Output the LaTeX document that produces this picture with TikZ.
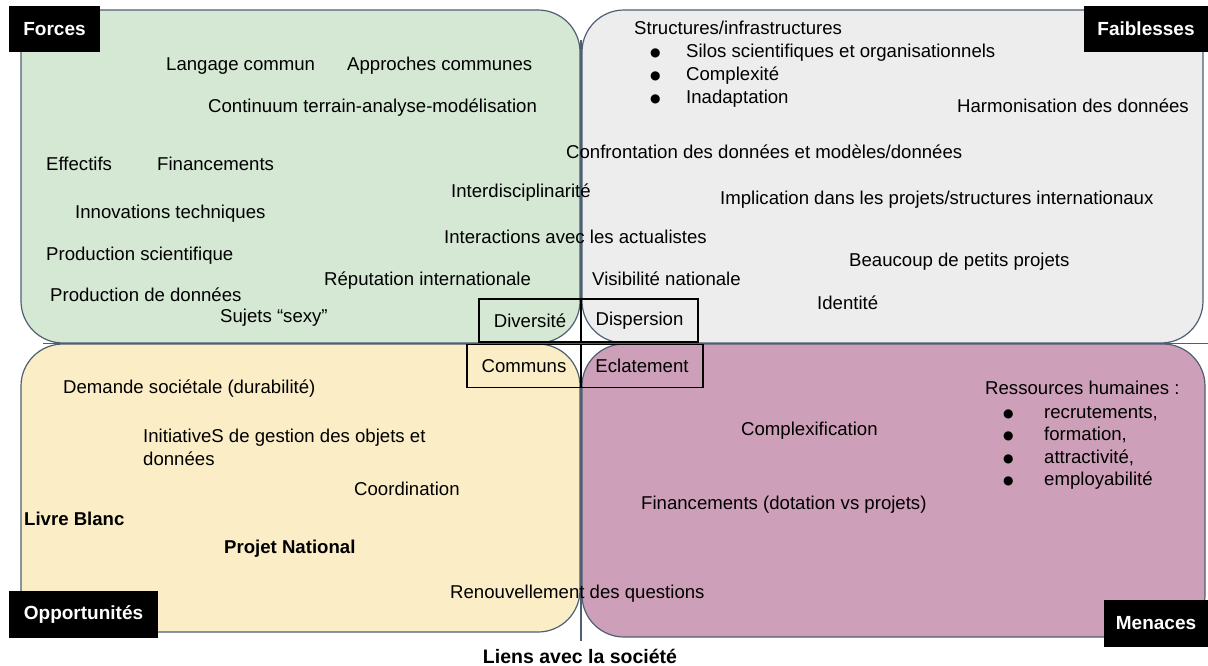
\documentclass[tikz,border=0pt]{standalone}
\usepackage{fontspec}
\setmainfont{Liberation Sans}
\newfontfamily\symfont{DejaVu Sans}
\definecolor{cgreen}{HTML}{D5E8D4}
\definecolor{cgray}{HTML}{EDEDED}
\definecolor{cyellow}{HTML}{FBEDC6}
\definecolor{cpink}{HTML}{CD9FB9}
\definecolor{cedge}{HTML}{4F5F73}
\tikzset{
  quad/.style={draw=cedge, line width=1.2pt, rounded corners=42pt},
  axis/.style={draw=cedge, line width=1.1pt},
  txt/.style={anchor=base west, inner sep=0pt, font=\fontsize{18.6pt}{22pt}\selectfont},
  btxt/.style={txt, font=\fontsize{18.6pt}{22pt}\selectfont\bfseries},
  bul/.style={anchor=base west, inner sep=0pt, font=\fontsize{12pt}{14pt}\symfont},
  tag/.style={fill=black, text=white, inner sep=0pt, minimum height=46pt, font=\fontsize{19pt}{22pt}\selectfont\bfseries},
  midbox/.style={draw=black, line width=1.1pt, inner sep=0pt, minimum height=43pt, font=\fontsize{18.6pt}{22pt}\selectfont},
}
\begin{document}
\begin{tikzpicture}[x=1pt,y=-1pt]
\useasboundingbox (0,0) rectangle (1208,665);
% quadrants
\path[quad, fill=cgreen] (21,10) rectangle (580,343);
\path[quad, fill=cgray] (582,10) rectangle (1203,343);
\path[quad, fill=cyellow] (21,344) rectangle (580,632);
\path[quad, fill=cpink] (582,344) rectangle (1205,637);
% axes
\coordinate (vt) at (581,40);
\coordinate (vb) at (581,641);
\coordinate (hl) at (43,343.5);
\coordinate (hr) at (1208,343.5);
\path[axis] (vt) -- (vb);
\path[axis] (hl) -- (hr);
% center boxes
\node[midbox, minimum width=102pt] (div) at (530,320.5) {Diversité};
\node[midbox, minimum width=117pt] (disp) at (639.5,320.5) {Dispersion};
\node[midbox, minimum width=114pt] (comm) at (524,366) {Communs};
\node[midbox, minimum width=122pt] (ecl) at (642,366) {Eclatement};
% tags
\node[tag, minimum width=91pt] (forces) at (54.5,29) {Forces};
\node[tag, minimum width=124pt] (faib) at (1146,29) {Faiblesses};
\node[tag, minimum width=149pt, minimum height=47pt] (opp) at (83.5,614.5) {Opportunités};
\node[tag, minimum width=104pt, minimum height=47pt] (men) at (1156,623.5) {Menaces};
% Forces
\node[txt] (f1) at (166,70) {Langage commun};
\node[txt] (f2) at (347,70) {Approches communes};
\node[txt] (f3) at (208,112) {Continuum terrain-analyse-modélisation};
\node[txt] (f4) at (46,170) {Effectifs};
\node[txt] (f5) at (157,170) {Financements};
\node[txt] (f6) at (451,197) {Interdisciplinarité};
\node[txt] (f7) at (75,218) {Innovations techniques};
\node[txt] (f8) at (444,243) {Interactions avec les actualistes};
\node[txt] (f9) at (46,260) {Production scientifique};
\node[txt] (f10) at (324,285) {Réputation internationale};
\node[txt] (f11) at (50,301) {Production de données};
\node[txt] (f12) at (220,322) {Sujets “sexy”};
% Faiblesses
\node[txt] (w1) at (634,34) {Structures/infrastructures};
\node[bul] (wb1) at (650,56) {●};
\node[txt] (w2) at (686,57) {Silos scientifiques et organisationnels};
\node[bul] (wb2) at (650,79) {●};
\node[txt] (w3) at (686,80) {Complexité};
\node[bul] (wb3) at (650,102) {●};
\node[txt] (w4) at (686,103) {Inadaptation};
\node[txt] (w5) at (957,112) {Harmonisation des données};
\node[txt] (w6) at (566,158) {Confrontation des données et modèles/données};
\node[txt] (w7) at (720,204) {Implication dans les projets/structures internationaux};
\node[txt] (w8) at (849,266) {Beaucoup de petits projets};
\node[txt] (w9) at (592,285) {Visibilité nationale};
\node[txt] (w10) at (817,309) {Identité};
% Opportunites
\node[txt] (o1) at (63,393) {Demande sociétale (durabilité)};
\node[txt] (o2) at (143,442) {InitiativeS de gestion des objets et};
\node[txt] (o3) at (143,465) {données};
\node[txt] (o4) at (354,495) {Coordination};
\node[btxt] (o5) at (24,525) {Livre Blanc};
\node[btxt] (o6) at (224,553) {Projet National};
\node[txt] (o7) at (450,598) {Renouvellement des questions};
% Menaces
\node[txt] (m1) at (741,435) {Complexification};
\node[txt] (m2) at (641,509) {Financements (dotation vs projets)};
\node[txt] (m3) at (985,394) {Ressources humaines :};
\node[bul] (mb1) at (1003,417) {●};
\node[txt] (m4) at (1044,418) {recrutements,};
\node[bul] (mb2) at (1003,439) {●};
\node[txt] (m5) at (1044,440) {formation,};
\node[bul] (mb3) at (1003,462) {●};
\node[txt] (m6) at (1044,463) {attractivité,};
\node[bul] (mb4) at (1003,484) {●};
\node[txt] (m7) at (1044,485) {employabilité};
% bottom label
\node[btxt, font=\fontsize{19.5pt}{22pt}\selectfont\bfseries, anchor=base] (liens) at (580,663) {Liens avec la société};
\end{tikzpicture}
\end{document}
